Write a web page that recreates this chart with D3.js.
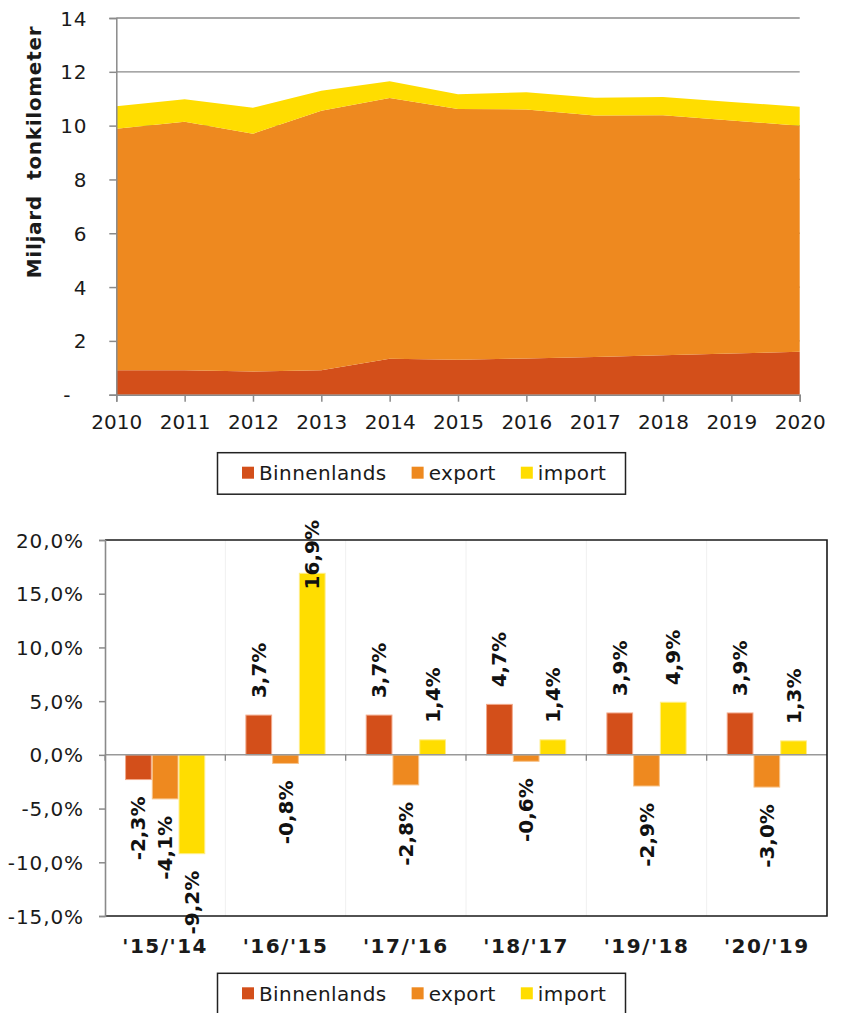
<!DOCTYPE html>
<html>
<head>
<meta charset="utf-8">
<script src="https://cdn.jsdelivr.net/npm/d3@7"></script>
<style>
  body { margin: 0; background: #fff; }
  svg { display: block; font-family: "DejaVu Sans", Verdana, sans-serif; }
</style>
</head>
<body>
<svg id="chart" width="841" height="1013"></svg>
<script>
// ---------- DATA ----------
const years = [2010, 2011, 2012, 2013, 2014, 2015, 2016, 2017, 2018, 2019, 2020];
const binnenlands = [0.91, 0.91, 0.86, 0.91, 1.34, 1.30, 1.35, 1.40, 1.47, 1.53, 1.60];
const exportVals  = [8.97, 9.23, 8.84, 9.64, 9.69, 9.32, 9.25, 8.98, 8.92, 8.66, 8.40];
const importVals  = [0.84, 0.84, 0.96, 0.75, 0.62, 0.55, 0.64, 0.66, 0.67, 0.69, 0.70];
const topTicks = [0, 2, 4, 6, 8, 10, 12, 14];
const topTickLabels = ["-", "2", "4", "6", "8", "10", "12", "14"];

const periods = ["'15/'14", "'16/'15", "'17/'16", "'18/'17", "'19/'18", "'20/'19"];
const chgBinnenlands = [-2.3, 3.7, 3.7, 4.7, 3.9, 3.9];
const chgExport      = [-4.1, -0.8, -2.8, -0.6, -2.9, -3.0];
const chgImport      = [-9.2, 16.9, 1.4, 1.4, 4.9, 1.3];
const pctTicks = [-15, -10, -5, 0, 5, 10, 15, 20];

const seriesNames = ["Binnenlands", "export", "import"];
const colors = ["#D34F1A", "#EE891F", "#FFDD00"];
const strokeColors = ["#F2A98A", "#F7C48C", "#FFEE88"];

const nl = d3.formatLocale({decimal: ",", thousands: ".", grouping: [3], currency: ["", ""], minus: "-"});
const fmtPct = v => nl.format(".1f")(v) + "%";

const svg = d3.select("#chart");
const FS = 20;

// ---------- TOP CHART (stacked area) ----------
const T = {left: 116.3, right: 799.7, top: 18, bottom: 394.7};
const xT = d3.scaleLinear().domain([years[0], years[years.length - 1]]).range([T.left, T.right]);
const yT = d3.scaleLinear().domain([0, 14]).range([T.bottom, T.top]);

const rows = years.map((y, i) => ({year: y, Binnenlands: binnenlands[i], export: exportVals[i], import: importVals[i]}));
const stacked = d3.stack().keys(seriesNames)(rows);

const gTop = svg.append("g");
gTop.append("g").selectAll("line").data(topTicks.filter(d => d > 0)).join("line")
  .attr("x1", T.left).attr("x2", T.right)
  .attr("y1", d => yT(d)).attr("y2", d => yT(d))
  .attr("stroke", "#8a8a8a").attr("stroke-width", 1.3);

const area = d3.area().x(d => xT(d.data.year)).y0(d => yT(d[0])).y1(d => yT(d[1]));
gTop.append("g").selectAll("path").data(stacked).join("path")
  .attr("d", area).attr("fill", (d, i) => colors[i]);

const yAxisT = d3.axisLeft(yT).tickValues(topTicks).tickSize(7).tickFormat((d, i) => topTickLabels[i]);
const gyT = gTop.append("g").attr("transform", `translate(${T.left},0)`).call(yAxisT);
gyT.select(".domain").attr("stroke", "#8a8a8a").attr("stroke-width", 1.5);
gyT.selectAll(".tick line").attr("stroke", "#8a8a8a").attr("stroke-width", 1.5);
gyT.selectAll(".tick text").attr("font-size", FS).attr("fill", "#1a1a1a")
  .attr("font-family", "DejaVu Sans, sans-serif").attr("letter-spacing", 0.8)
  .attr("x", d => d === 0 ? -45 : -29).attr("dy", "0.35em");

const xAxisT = d3.axisBottom(xT).tickValues(years).tickSize(7).tickFormat(d3.format("d"));
const gxT = gTop.append("g").attr("transform", `translate(0,${T.bottom})`).call(xAxisT);
gxT.select(".domain").attr("stroke", "#8a8a8a").attr("stroke-width", 1.5);
gxT.selectAll(".tick line").attr("stroke", "#8a8a8a").attr("stroke-width", 1.5);
gxT.selectAll(".tick text").attr("font-size", FS).attr("fill", "#1a1a1a")
  .attr("font-family", "DejaVu Sans, sans-serif").attr("y", 20).attr("dy", "0.71em");

gTop.append("text")
  .attr("transform", "translate(34,152) rotate(-90)")
  .attr("text-anchor", "middle").attr("dominant-baseline", "central")
  .attr("font-size", FS).attr("font-weight", "bold").attr("fill", "#1a1a1a")
  .attr("letter-spacing", 0.7)
  .style("white-space", "pre")
  .text("Miljard  tonkilometer");

// ---------- legend helper ----------
function legend(yTop) {
  const g = svg.append("g");
  g.append("rect").attr("x", 217.5).attr("y", yTop).attr("width", 408).attr("height", 41.5)
    .attr("fill", "#fff").attr("stroke", "#222").attr("stroke-width", 1.5);
  let x = 242;
  seriesNames.forEach((name, i) => {
    g.append("rect").attr("x", x).attr("y", yTop + 14).attr("width", 12).attr("height", 12).attr("fill", colors[i]);
    const t = g.append("text").attr("x", x + 17).attr("y", yTop + 27.5)
      .attr("font-size", FS).attr("letter-spacing", 0.4).attr("fill", "#1a1a1a").text(name);
    x = x + 17 + t.node().getComputedTextLength() + 25;
  });
}
legend(452.7);

// ---------- BOTTOM CHART (grouped bars) ----------
const B = {left: 105, right: 827, top: 540, bottom: 916};
const x0 = d3.scaleBand().domain(periods).range([B.left, B.right]).padding(0);
const x1 = d3.scaleBand().domain(seriesNames).range([x0.bandwidth() / 6, x0.bandwidth() * 5 / 6]).padding(0);
const yB = d3.scaleLinear().domain([-15, 20]).range([B.bottom, B.top]);

const gB = svg.append("g");
gB.append("g").selectAll("line").data(periods.slice(1)).join("line")
  .attr("x1", d => x0(d)).attr("x2", d => x0(d)).attr("y1", B.top).attr("y2", B.bottom)
  .attr("stroke", "#f0f0f0").attr("stroke-width", 1);

const changes = [chgBinnenlands, chgExport, chgImport];
const barData = [];
periods.forEach((p, pi) => seriesNames.forEach((s, si) => barData.push({p, s, si, v: changes[si][pi]})));

gB.append("g").selectAll("rect").data(barData).join("rect")
  .attr("x", d => x0(d.p) + x1(d.s) + 0.5)
  .attr("width", x1.bandwidth() - 1)
  .attr("y", d => yB(Math.max(0, d.v)))
  .attr("height", d => Math.abs(yB(d.v) - yB(0)))
  .attr("fill", d => colors[d.si])
  .attr("stroke", d => strokeColors[d.si]).attr("stroke-width", 1);

gB.append("line").attr("x1", B.left).attr("x2", B.right).attr("y1", yB(0)).attr("y2", yB(0))
  .attr("stroke", "#999").attr("stroke-width", 1.5);
gB.append("g").selectAll("line").data(periods).join("line")
  .attr("x1", d => x0(d)).attr("x2", d => x0(d)).attr("y1", yB(0)).attr("y2", yB(0) + 6)
  .attr("stroke", "#888").attr("stroke-width", 1.3);

gB.append("path")
  .attr("d", `M${B.left},${B.top}H${B.right}V${B.bottom}H${B.left}`)
  .attr("fill", "none").attr("stroke", "#1a1a1a").attr("stroke-width", 1.6);

const yAxisB = d3.axisLeft(yB).tickValues(pctTicks).tickSize(6).tickFormat(fmtPct);
const gyB = gB.append("g").attr("transform", `translate(${B.left},0)`).call(yAxisB);
gyB.select(".domain").attr("stroke", "#8a8a8a").attr("stroke-width", 1.6);
gyB.selectAll(".tick line").attr("stroke", "#8a8a8a").attr("stroke-width", 1.5);
gyB.selectAll(".tick text").attr("font-size", FS).attr("fill", "#1a1a1a")
  .attr("font-family", "DejaVu Sans, sans-serif").attr("letter-spacing", 0.9)
  .attr("x", -21).attr("dy", "0.35em");

gB.append("g").selectAll("text").data(periods).join("text")
  .attr("x", d => x0(d) + x0.bandwidth() / 2).attr("y", 946)
  .attr("text-anchor", "middle").attr("dominant-baseline", "central")
  .attr("font-size", FS).attr("font-weight", "bold").attr("fill", "#1a1a1a")
  .attr("letter-spacing", 1.5)
  .text(d => d);

const labels = gB.append("g").selectAll("text").data(barData).join("text")
  .attr("font-size", FS).attr("font-weight", "bold").attr("fill", "#111")
  .attr("dominant-baseline", "central")
  .attr("text-anchor", d => d.v >= 0 ? "start" : "end")
  .text(d => fmtPct(d.v));
labels.each(function(d) {
  const len = this.getComputedTextLength();
  const cx = x0(d.p) + x1(d.s) + x1.bandwidth() / 2;
  let y;
  if (d.v >= 0) {
    y = Math.max(yB(d.v) - 17, 520 + len);
  } else {
    y = yB(d.v) + 17;
  }
  d3.select(this).attr("transform", `translate(${cx},${y}) rotate(-90)`);
});

legend(973.3);
</script>
</body>
</html>
